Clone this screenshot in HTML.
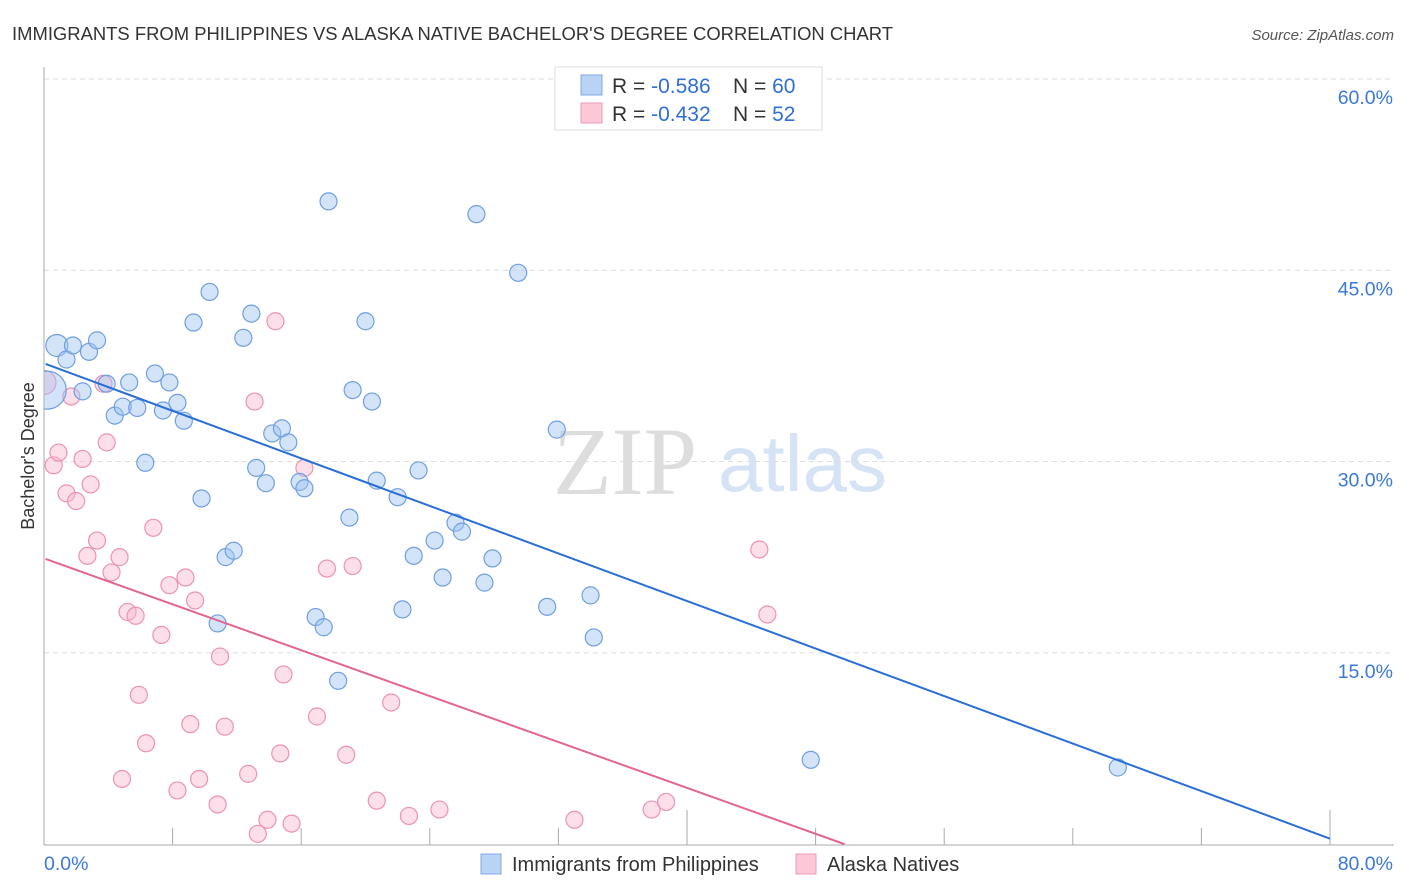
<!DOCTYPE html>
<html><head><meta charset="utf-8">
<style>
body{margin:0;background:#fff;font-family:"Liberation Sans",sans-serif;}
svg{display:block}
</style></head>
<body>
<svg id="chart" width="1406" height="892" xmlns="http://www.w3.org/2000/svg">
<defs><clipPath id="plotclip"><rect x="44" y="60" width="1360" height="786"/></clipPath></defs>
<text x="12" y="40" font-size="18.5" fill="#333" textLength="881" lengthAdjust="spacingAndGlyphs">IMMIGRANTS FROM PHILIPPINES VS ALASKA NATIVE BACHELOR'S DEGREE CORRELATION CHART</text>
<text x="1394" y="40" font-size="15" fill="#555" text-anchor="end" font-style="italic">Source: ZipAtlas.com</text>
<text transform="translate(34,456) rotate(-90)" font-size="18" fill="#333" text-anchor="middle">Bachelor's Degree</text>
<g>
<text x="553" y="494" font-size="96" fill="#ddd" font-family="Liberation Serif,serif">ZIP</text>
<text x="718" y="491" font-size="80" fill="#d6e3f5">atlas</text>
</g>
<g id="grid"></g>
<g id="axes"></g>
<g id="pts" clip-path="url(#plotclip)"></g>
<g id="trends"></g>
<g>
<rect x="555" y="67" width="267" height="63" fill="#fff" stroke="#ddd"/>
<rect x="581" y="75" width="21" height="20" fill="#b9d3f5" stroke="#7fa8e4"/>
<rect x="581" y="103" width="21" height="20" fill="#fcc8d8" stroke="#ee9ab5"/>
<text x="612" y="93" font-size="21" fill="#333">R = <tspan fill="#2f6fd6">-0.586</tspan><tspan x="733">N = </tspan><tspan fill="#2f6fd6">60</tspan></text>
<text x="612" y="121" font-size="21" fill="#333">R = <tspan fill="#2f6fd6">-0.432</tspan><tspan x="733">N = </tspan><tspan fill="#2f6fd6"> 52</tspan></text>
</g>
<g>
<rect x="481" y="854" width="20" height="20" fill="#b9d3f5" stroke="#7fa8e4"/>
<text x="512" y="871" font-size="20" fill="#333">Immigrants from Philippines</text>
<rect x="796" y="854" width="20" height="20" fill="#fcc8d8" stroke="#ee9ab5"/>
<text x="827" y="871" font-size="20" fill="#333">Alaska Natives</text>
</g>
</svg>
<script>
const yTicks=[15,30,45,60];
const yTickLabels=["15.0%","30.0%","45.0%","60.0%"];
const xTicks=[0,8,16,24,32,40,48,56,64,72,80];
const xEndLabels=["0.0%","80.0%"];
const blueX=[0.2,0.8,1.4,1.8,2.4,2.8,3.3,3.9,4.4,4.9,5.3,5.8,6.3,6.9,7.4,7.8,8.3,8.7,9.3,9.8,10.3,10.8,11.3,11.8,12.4,12.9,13.2,13.8,14.2,14.8,15.2,15.9,16.2,16.9,17.4,17.7,18.3,19.0,19.2,20.0,20.4,20.7,22.0,22.3,23.0,23.3,24.3,24.8,25.6,26.0,26.9,27.4,27.9,29.5,31.3,31.9,34.0,34.2,47.7,66.8];
const blueY=[35.6,39.1,38.0,39.1,35.5,38.6,39.5,36.1,33.6,34.3,36.2,34.2,29.9,36.9,34.0,36.2,34.6,33.2,40.9,27.1,43.3,17.3,22.5,23.0,39.7,41.6,29.5,28.3,32.2,32.6,31.5,28.4,27.9,17.8,17.0,50.4,12.8,25.6,35.6,41.0,34.7,28.5,27.2,18.4,22.6,29.3,23.8,20.9,25.2,24.5,49.4,20.5,22.4,44.8,18.6,32.5,19.5,16.2,6.6,6.0];
const pinkX=[0,0.6,0.9,1.4,1.7,2.0,2.4,2.7,2.9,3.3,3.7,3.9,4.2,4.7,4.85,5.2,5.7,5.9,6.35,6.8,7.3,7.8,8.3,8.8,9.1,9.4,9.65,10.8,10.95,11.25,12.7,13.1,13.3,13.9,14.4,14.7,14.9,15.4,16.2,16.98,17.6,18.8,19.2,20.7,21.6,22.7,24.6,33.0,37.8,38.7,44.5,45.0];
const pinkY=[36.2,29.7,30.7,27.5,35.1,26.9,30.2,22.6,28.2,23.8,36.1,31.5,21.3,22.5,5.1,18.2,17.9,11.7,7.9,24.8,16.4,20.3,4.2,20.9,9.4,19.1,5.1,3.1,14.7,9.2,5.5,34.7,0.8,1.9,41.0,7.1,13.3,1.6,29.5,10.0,21.6,7.0,21.8,3.4,11.1,2.2,2.7,1.9,2.7,3.3,23.1,18.0];
const blueTrend=[37.7,-0.466];   // intercept, slope
const pinkTrend=[22.4,-0.45];
const pinkTrendEnd=49.8;

const NS="http://www.w3.org/2000/svg";
const X0=44,X1=1330,Y0=844,YTOP=79;
const sx=v=>X0+v*(X1-X0)/80;
const sy=v=>Y0-v*(Y0-YTOP)/60;
function mk(tag,attrs,parent){const e=document.createElementNS(NS,tag);for(const k in attrs)e.setAttribute(k,attrs[k]);parent.appendChild(e);return e;}
const grid=document.getElementById('grid'),axes=document.getElementById('axes'),pts=document.getElementById('pts'),tr=document.getElementById('trends');
yTicks.forEach((t,i)=>{
  const l=mk('line',{x1:X0,x2:1394,y1:sy(t),y2:sy(t),stroke:'#ddd','stroke-dasharray':'5,4'},grid);
  
  
  const tx=mk('text',{x:1393,y:sy(t)+25,'font-size':19.5,fill:'#3c78d8','text-anchor':'end'},axes);
  tx.textContent=yTickLabels[i];
  
  
});
const ya=mk('line',{x1:X0,x2:X0,y1:67,y2:Y0+1,stroke:'#aaa'},axes);


const xa=mk('line',{x1:X0,x2:1394,y1:Y0+1,y2:Y0+1,stroke:'#aaa'},axes);


xTicks.forEach(t=>{
  const long=(t===40||t===80);
  const l=mk('line',{x1:sx(t),x2:sx(t),y1:long?810:828,y2:Y0+1,stroke:'#aaa'},axes);
  
  
});
const xl0=mk('text',{x:44,y:870,'font-size':19.5,fill:'#3c78d8'},axes);xl0.textContent=xEndLabels[0];


const xl1=mk('text',{x:1393,y:870,'font-size':19.5,fill:'#3c78d8','text-anchor':'end'},axes);xl1.textContent=xEndLabels[1];


pinkX.forEach((v,i)=>{
  const c=mk('circle',{cx:sx(v),cy:sy(pinkY[i]),r:i===0?12:8.5,fill:'rgba(248,185,206,0.45)',stroke:'#ec93b1','stroke-width':1.2},pts);
  
  
});
blueX.forEach((v,i)=>{
  const c=mk('circle',{cx:sx(v),cy:sy(blueY[i]),r:i===0?19:(i===1?11:8.5),fill:'rgba(160,196,240,0.45)',stroke:'#6f9fe2','stroke-width':1.2},pts);
  
  
});
const bl=mk('line',{x1:sx(0.1),y1:sy(blueTrend[0]+blueTrend[1]*0.1),x2:sx(80),y2:sy(blueTrend[0]+blueTrend[1]*80),stroke:'#2a6fd6','stroke-width':2},tr);


const pl=mk('line',{x1:sx(0.1),y1:sy(pinkTrend[0]+pinkTrend[1]*0.1),x2:sx(pinkTrendEnd),y2:sy(pinkTrend[0]+pinkTrend[1]*pinkTrendEnd),stroke:'#e26592','stroke-width':2},tr);


</script>
</body></html>
